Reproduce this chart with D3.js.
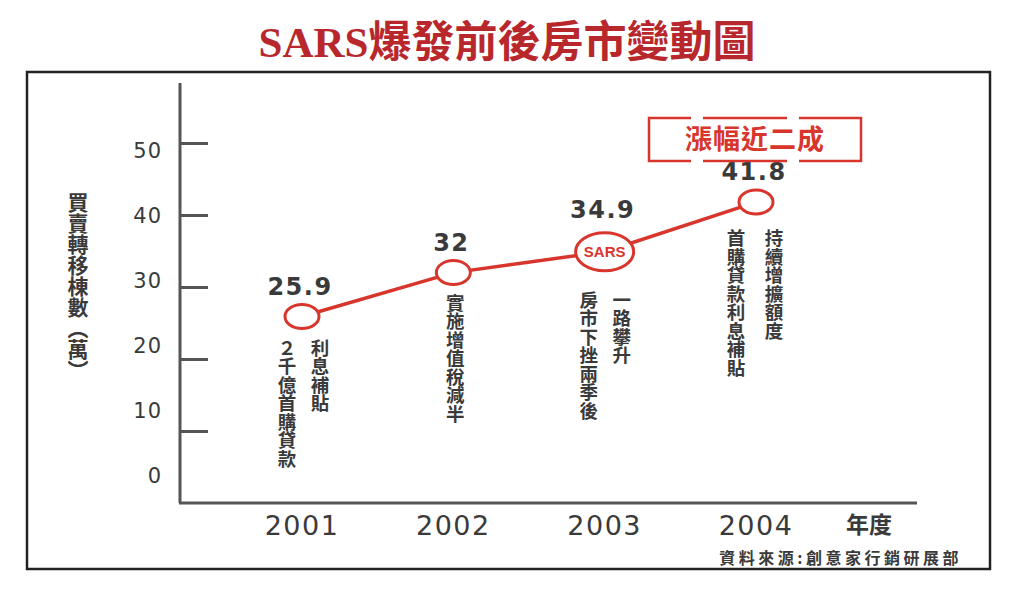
<!DOCTYPE html>
<html lang="zh-Hant">
<head>
<meta charset="utf-8">
<title>SARS爆發前後房市變動圖</title>
<script src="https://cdn.jsdelivr.net/npm/d3@7"></script>
<style>
  body { margin: 0; background: #fff; }
  text { font-family: "DejaVu Sans", "Noto Sans CJK TC", sans-serif; }
  .cjk { font-family: "Noto Sans CJK TC", sans-serif; }
</style>
</head>
<body>
<script>
// data
var years = [2001, 2002, 2003, 2004];
var values = [25.9, 32, 34.9, 41.8];
var valueLabels = ["25.9", "32", "34.9", "41.8"];
var yTicks = [10, 20, 30, 40, 50];
var yTickLabels = [0, 10, 20, 30, 40, 50];
var notes = [
  ["利息補貼", "２千億首購貸款"],
  ["實施增值稅減半"],
  ["一路攀升", "房市下挫兩季後"],
  ["持續增擴額度", "首購貸款利息補貼"]
];
var sarsYear = 2003;
var title = "SARS爆發前後房市變動圖";
var yTitle = "買賣轉移棟數（萬）";
var xTitle = "年度";
var callout = "漲幅近二成";
var source = "資料來源:創意家行銷研展部";

// layout for the note columns (offset from the point)
var noteLayout = [
  { dy: 22, dx: [18, -15] },
  { dy: 21, dx: [2] },
  { dy: 39, dx: [17, -16] },
  { dy: 27, dx: [18, -20] }
];

var w = 1024, h = 592;
var red = "#d8352c", ink = "#3a3a3a", axisCol = "#555";

var svg = d3.select("body").append("svg")
  .attr("width", w).attr("height", h);

// frame
svg.append("rect")
  .attr("x", 27).attr("y", 72).attr("width", 963).attr("height", 497)
  .attr("fill", "none").attr("stroke", "#222").attr("stroke-width", 2.5);

// title
svg.append("text")
  .attr("x", 507).attr("y", 57)
  .attr("text-anchor", "middle")
  .attr("fill", "#b8272c")
  .style("font-family", "'Liberation Serif', 'Noto Sans CJK TC', serif")
  .style("font-weight", "bold")
  .style("font-size", "43px")
  .text(title);

var x = d3.scaleLinear().domain([2001, 2004]).range([302, 756]);
var y = d3.scaleLinear().domain([0, 50]).range([503, 143]);
// the printed tick labels do not sit on the tick marks
var yLab = d3.scaleLinear().domain([0, 50]).range([475, 150]);

// axes lines
svg.append("line")
  .attr("x1", 180).attr("x2", 180).attr("y1", 83).attr("y2", y(0))
  .attr("stroke", axisCol).attr("stroke-width", 3);
svg.append("line")
  .attr("x1", 179).attr("x2", 917).attr("y1", y(0)).attr("y2", y(0))
  .attr("stroke", axisCol).attr("stroke-width", 3);

var yAxis = d3.axisRight(y).tickValues(yTicks).tickSize(28).tickFormat("");
var gy = svg.append("g").attr("transform", "translate(180,0)").call(yAxis);
gy.select(".domain").remove();
gy.selectAll(".tick line").attr("stroke", axisCol).attr("stroke-width", 3);

svg.selectAll(".ylab").data(yTickLabels).enter().append("text")
  .attr("class", "ylab")
  .attr("x", 162).attr("y", function(d) { return yLab(d); })
  .attr("dy", "0.36em")
  .attr("text-anchor", "end")
  .attr("fill", ink)
  .style("font-size", "21px")
  .style("letter-spacing", "1px")
  .text(function(d) { return d; });

// x labels
svg.selectAll(".xlab").data(years).enter().append("text")
  .attr("class", "xlab")
  .attr("x", function(d) { return x(d); }).attr("y", 535)
  .attr("text-anchor", "middle")
  .attr("fill", ink)
  .style("font-size", "27px")
  .style("letter-spacing", "1.5px")
  .text(function(d) { return d; });

svg.append("text").attr("class", "cjk")
  .attr("x", 869).attr("y", 533)
  .attr("text-anchor", "middle").attr("fill", ink)
  .style("font-weight", "bold").style("font-size", "23px")
  .text(xTitle);

// y title, vertical
svg.append("text").attr("class", "cjk")
  .attr("x", 78).attr("y", 192)
  .attr("fill", ink)
  .style("writing-mode", "vertical-rl")
  .style("font-weight", "bold").style("font-size", "21px")
  .text(yTitle);

// source
svg.append("text").attr("class", "cjk")
  .attr("x", 962).attr("y", 564)
  .attr("text-anchor", "end").attr("fill", ink)
  .style("font-weight", "bold").style("font-size", "16px")
  .style("letter-spacing", "3.5px")
  .text(source);

// line
var pts = years.map(function(d, i) { return [x(d), y(values[i])]; });
svg.append("path")
  .attr("d", d3.line()(pts))
  .attr("fill", "none").attr("stroke", red).attr("stroke-width", 3.5);

svg.selectAll(".pt").data(years).enter().append("ellipse")
  .attr("class", "pt")
  .attr("cx", function(d) { return x(d); })
  .attr("cy", function(d, i) { return y(values[i]); })
  .attr("rx", function(d) { return d === sarsYear ? 29 : 17; })
  .attr("ry", function(d) { return d === sarsYear ? 19 : 12; })
  .attr("fill", "#fff").attr("stroke", red).attr("stroke-width", 3);

svg.append("text")
  .attr("x", x(sarsYear)).attr("y", y(values[years.indexOf(sarsYear)]))
  .attr("dy", "0.36em").attr("text-anchor", "middle")
  .attr("fill", red)
  .style("font-family", "'Liberation Sans', sans-serif")
  .style("font-weight", "bold").style("font-size", "15px")
  .text("SARS");

// value labels
svg.selectAll(".val").data(years).enter().append("text")
  .attr("class", "val")
  .attr("x", function(d) { return x(d) - 2; })
  .attr("y", function(d, i) {
    return y(values[i]) - (d === sarsYear ? 34 : 22);
  })
  .attr("text-anchor", "middle").attr("fill", ink)
  .style("font-size", "24px").style("font-weight", "bold")
  .style("letter-spacing", "1.5px")
  .text(function(d, i) { return valueLabels[i]; });

// notes
notes.forEach(function(cols, i) {
  var px = x(years[i]), py = y(values[i]);
  cols.forEach(function(s, j) {
    svg.append("text").attr("class", "cjk")
      .attr("x", px + noteLayout[i].dx[j])
      .attr("y", py + noteLayout[i].dy)
      .attr("fill", ink)
      .style("writing-mode", "vertical-rl")
      .style("text-orientation", "upright")
      .style("font-weight", "bold").style("font-size", "18.5px")
      .text(s);
  });
});

// callout box, broken top and bottom edges
var bx = 649, by = 118, bw = 212, bh = 43;
var cb = svg.append("g").attr("fill", "none").attr("stroke", red).attr("stroke-width", 2.5);
cb.append("path").attr("d",
  "M" + (bx + 42) + "," + by + "H" + bx + "V" + (by + bh) + "H" + (bx + 42));
cb.append("path").attr("d",
  "M" + (bx + bw - 62) + "," + by + "H" + (bx + bw) + "V" + (by + bh) + "H" + (bx + bw - 62));
cb.append("path").attr("d",
  "M" + (bx + 54) + "," + by + "H" + (bx + bw - 74) +
  "M" + (bx + 54) + "," + (by + bh) + "H" + (bx + bw - 74));
svg.append("text").attr("class", "cjk")
  .attr("x", bx + bw / 2).attr("y", by + 31)
  .attr("text-anchor", "middle").attr("fill", red)
  .style("font-weight", "bold").style("font-size", "27px")
  .style("letter-spacing", "1px")
  .text(callout);
</script>
</body>
</html>
